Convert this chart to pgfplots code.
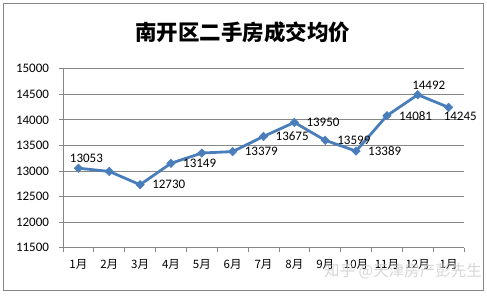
\documentclass[border=0pt]{standalone}
\usepackage{fontspec}
\setmainfont{Carlito}
\newfontfamily\cjk{Noto Sans CJK SC}
\usepackage{pgfplots}
\pgfplotsset{compat=1.18}
\usepackage{pgfplotstable}
\definecolor{lineblue}{RGB}{74,126,187}
\definecolor{gridgray}{RGB}{134,134,134}

\pgfplotstableread{
x y
0 13053
1 12990
2 12730
3 13149
4 13350
5 13379
6 13675
7 13950
8 13599
9 13389
10 14081
11 14492
12 14245
}\pricedata

% labels placed to the right of the point
\pgfplotstableread{
x y
2 12730
3 13149
5 13379
6 13675
7 13950
8 13599
9 13389
10 14081
}\labelright

% labels placed above the point
\pgfplotstableread{
x y dx
0 13053 8
11 14492 11
}\labelabove

% label placed below right
\pgfplotstableread{
x y
12 14245
}\labelbelow

\begin{document}
\begin{tikzpicture}
\useasboundingbox (0pt,0pt) rectangle (487pt,295pt);
\draw[gridgray, line width=0.8pt] (3.5pt,5pt) rectangle (483pt,291.5pt);
\node[font=\cjk\bfseries\fontsize{21.5}{25}\selectfont] at (242.5pt,262.3pt) {南开区二手房成交均价};
\begin{axis}[
  at={(63pt,47.5pt)}, anchor=south west,
  scale only axis, width=401pt, height=178.7pt,
  xmin=-0.5, xmax=12.5, ymin=11500, ymax=15000,
  ytick={11500,12000,...,15000},
  xtick={0,...,12},
  xticklabels={1月,2月,3月,4月,5月,6月,7月,8月,9月,10月,11月,12月,1月},
  minor xtick={-0.5,0.5,...,12.5},
  major x tick style={draw=none},
  minor tick length=4pt,
  major tick length=4.5pt,
  tick align=outside,
  x tick style={gridgray, line width=0.8pt},
  y tick style={gridgray, line width=0.8pt},
  axis x line*=bottom, axis y line*=left,
  axis line style={gridgray, line width=0.8pt, -},
  ymajorgrids, grid style={gridgray, line width=0.8pt},
  scaled y ticks=false,
  /pgf/number format/1000 sep={},
  /pgf/number format/assume math mode=true,
  tick label style={font=\fontsize{13}{15}\selectfont, text=black},
  xticklabel style={font=\cjk\fontsize{11.5}{14}\selectfont, yshift=-4pt},
  yticklabel style={xshift=-6pt},
  clip=false,
  nodes near coords={\pgfmathprintnumber[1000 sep={},fixed,precision=0]{\pgfplotspointmeta}},
]
\addplot[lineblue, line width=2.8pt, mark=square*, mark size=3pt,
  mark options={rotate=45, fill=lineblue, draw=lineblue, line width=0.5pt},
  nodes near coords={}]
  table[x=x, y=y] {\pricedata};
\addplot[draw=none, mark=none, point meta=explicit,
  nodes near coords style={anchor=west, inner sep=0pt, xshift=12pt, font=\fontsize{13}{15}\selectfont, text=black},
  ] table[x=x, y=y, meta=y] {\labelright};
\addplot[draw=none, mark=none, point meta=explicit,
  visualization depends on={\thisrow{dx}\as\ldx},
  nodes near coords style={anchor=south, inner sep=0pt, xshift=\ldx, yshift=5pt, font=\fontsize{13}{15}\selectfont, text=black},
  ] table[x=x, y=y, meta=y] {\labelabove};
\addplot[draw=none, mark=none, point meta=explicit,
  nodes near coords style={anchor=west, inner sep=0pt, xshift=-5pt, yshift=-9pt, font=\fontsize{13}{15}\selectfont, text=black},
  ] table[x=x, y=y, meta=y] {\labelbelow};
\end{axis}
\node[font=\cjk\fontsize{15.5}{18}\selectfont, text=gray!40, opacity=0.8] at (403pt,23.3pt) {知乎 @天津房产彭先生};
\end{tikzpicture}
\end{document}
